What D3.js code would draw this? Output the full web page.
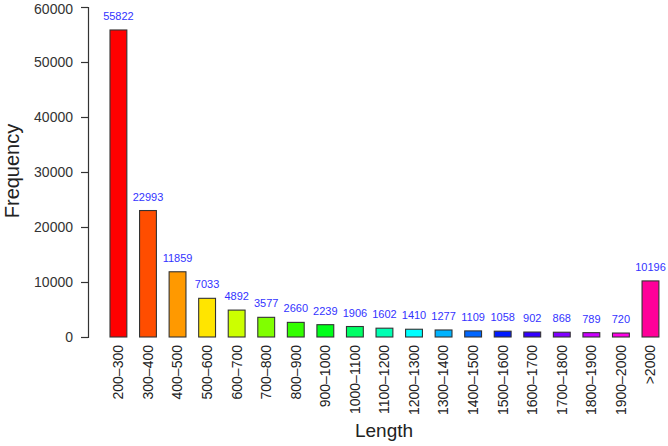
<!DOCTYPE html>
<html>
<head>
<meta charset="utf-8">
<script src="https://cdn.jsdelivr.net/npm/d3@7"></script>
<style>
  body { margin: 0; background: #fff; }
  svg { font-family: "Liberation Sans", Arial, Helvetica, sans-serif; }
</style>
</head>
<body>
<div id="chart"></div>
<script>
// length bins and their counts
var bins = ["200\u2013300", "300\u2013400", "400\u2013500", "500\u2013600", "600\u2013700",
    "700\u2013800", "800\u2013900", "900\u20131000", "1000\u20131100", "1100\u20131200",
    "1200\u20131300", "1300\u20131400", "1400\u20131500", "1500\u20131600", "1600\u20131700",
    "1700\u20131800", "1800\u20131900", "1900\u20132000", ">2000"];
var counts = [55822, 22993, 11859, 7033, 4892, 3577, 2660, 2239, 1906, 1602,
    1410, 1277, 1109, 1058, 902, 868, 789, 720, 10196];
var yTicks = [0, 10000, 20000, 30000, 40000, 50000, 60000];
// rainbow palette, one per bar
var colors = ["#FF0000", "#FF4D00", "#FF9900", "#FFE500", "#CCFF00", "#80FF00", "#33FF00",
    "#00FF1A", "#00FF66", "#00FFB2", "#00FFFF", "#00B3FF", "#0066FF", "#001AFF",
    "#3300FF", "#8000FF", "#CC00FF", "#FF00E6", "#FF0099"];

var W = 668, H = 446;

var svg = d3.select("#chart")
    .append("svg")
        .attr("width", W)
        .attr("height", H);

// scales
var x = d3.scaleBand()
    .domain(bins)
    .range([110, 658.9])
    .paddingInner(0.43)
    .paddingOuter(0);
var y = d3.scaleLinear().domain([0, 60000]).range([337, 7]);

// Y axis
var yAxis = d3.axisLeft(y).tickValues(yTicks).tickSize(7).tickPadding(8).tickFormat(d3.format("d"));
var yAxisGroup = svg.append("g")
    .attr("transform", "translate(88,0)")
    .call(yAxis);
yAxisGroup.select(".domain").attr("stroke", "#333").attr("stroke-width", 1.2);
yAxisGroup.selectAll(".tick line").attr("stroke", "#333").attr("stroke-width", 1.2);
yAxisGroup.selectAll(".tick text")
    .attr("font-size", "14px")
    .attr("fill", "#333")
    .style("font-family", "Liberation Sans, Arial, sans-serif");
// keep the top label inside the page
yAxisGroup.selectAll(".tick text")
    .filter(function(d){ return d === 60000; })
    .attr("dy", "0.45em");

// bars
svg.selectAll("rect.bar")
    .data(counts)
    .enter()
    .append("rect")
        .attr("class", "bar")
        .attr("x", function(d, i){ return x(bins[i]); })
        .attr("y", function(d){ return y(d); })
        .attr("width", x.bandwidth())
        .attr("height", function(d){ return y(0) - y(d); })
        .attr("fill", function(d, i){ return colors[i]; })
        .attr("stroke", "#333")
        .attr("stroke-width", 1.1);

// value labels above bars
svg.selectAll("text.val")
    .data(counts)
    .enter()
    .append("text")
        .attr("class", "val")
        .attr("x", function(d, i){ return x(bins[i]) + x.bandwidth() / 2; })
        .attr("y", function(d){ return y(d) - 10; })
        .attr("text-anchor", "middle")
        .attr("font-size", "11px")
        .attr("fill", "#3333ff")
        .text(function(d){ return d; });

// X category labels, rotated
svg.selectAll("text.cat")
    .data(bins)
    .enter()
    .append("text")
        .attr("class", "cat")
        .attr("transform", function(d){
            return "translate(" + (x(d) + x.bandwidth() / 2) + ",345) rotate(-90)";
        })
        .attr("dy", "0.35em")
        .attr("text-anchor", "end")
        .attr("font-size", "14px")
        .attr("fill", "#222")
        .text(function(d){ return d; });

// axis titles
svg.append("text")
    .attr("x", 384)
    .attr("y", 437)
    .attr("text-anchor", "middle")
    .attr("font-size", "19px")
    .attr("fill", "#222")
    .text("Length");

svg.append("text")
    .attr("transform", "translate(19,171) rotate(-90)")
    .attr("text-anchor", "middle")
    .attr("font-size", "20px")
    .attr("fill", "#222")
    .text("Frequency");
</script>
</body>
</html>
